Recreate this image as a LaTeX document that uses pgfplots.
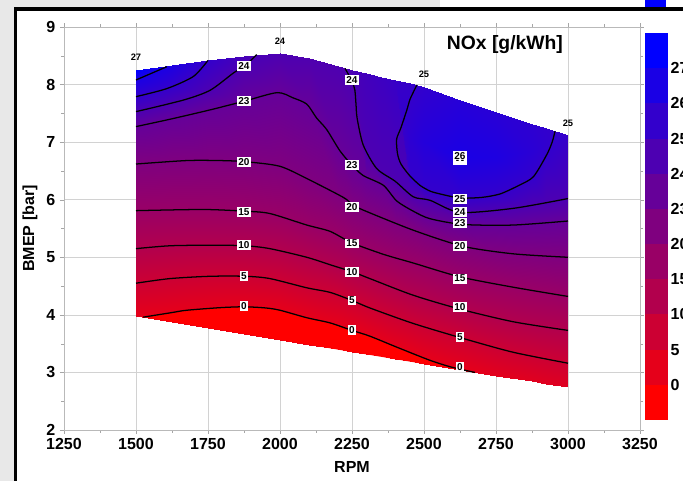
\documentclass[border=0pt]{standalone}
\usepackage{fontspec}
\setmainfont{Liberation Sans}
\usepackage{pgfplots}
\usepackage{pgfplotstable}
\pgfplotsset{compat=1.18}

\definecolor{cb0}{RGB}{255,0,0}
\definecolor{cb1}{RGB}{229,0,26}
\definecolor{cb2}{RGB}{204,0,51}
\definecolor{cb3}{RGB}{178,0,77}
\definecolor{cb4}{RGB}{153,0,102}
\definecolor{cb5}{RGB}{127,0,127}
\definecolor{cb6}{RGB}{102,0,153}
\definecolor{cb7}{RGB}{77,0,178}
\definecolor{cb8}{RGB}{51,0,204}
\definecolor{cb9}{RGB}{26,0,229}
\definecolor{cb10}{RGB}{0,0,255}
\definecolor{framegray}{RGB}{232,232,232}

\pgfplotsset{colormap={nox}{rgb255(0cm)=(230,0,25); rgb255(5cm)=(204,0,51); rgb255(10cm)=(178,0,77); rgb255(15cm)=(153,0,102); rgb255(20cm)=(127,0,127); rgb255(23cm)=(102,0,153); rgb255(24cm)=(77,0,178); rgb255(25cm)=(51,0,204); rgb255(26cm)=(26,0,229); rgb255(27cm)=(0,0,255)}}

% mesh: 12 rows (bottom, 0, 5, 10, 15, 20, 23, 24, 25, 26/peak, 25b/top, top) x 18 columns
\pgfplotstableread{
x y z
1500 3.98 0
1625 3.877 0
1750 3.773 0
1875 3.67 0
2000 3.567 0
2100 3.484 0
2200 3.401 0
2250 3.36 0
2300 3.318 0
2350 3.277 0
2400 3.236 0
2450 3.194 0
2500 3.153 0
2625 3.05 0
2750 2.946 0.5
2875 2.843 1.0
2925 2.80 1.1
3000 2.74 1.3
1500 3.98 0
1625 4.04 0
1750 4.11 0
1875 4.14 0
2000 4.08 0
2100 3.94 0
2200 3.82 0
2250 3.73 0
2300 3.65 0
2350 3.55 0
2400 3.45 0
2450 3.35 0
2500 3.25 0
2625 3.06 0
2750 2.946 0.5
2875 2.843 1.0
2925 2.80 1.1
3000 2.74 1.3
1500 4.55 5
1625 4.63 5
1750 4.67 5
1875 4.67 5
2000 4.61 5
2100 4.47 5
2200 4.36 5
2250 4.25 5
2300 4.15 5
2350 4.05 5
2400 3.96 5
2450 3.87 5
2500 3.79 5
2625 3.61 5
2750 3.43 5
2875 3.29 5
2925 3.24 5
3000 3.16 5
1500 5.15 10
1625 5.20 10
1750 5.21 10
1875 5.20 10
2000 5.12 10
2100 4.99 10
2200 4.83 10
2250 4.75 10
2300 4.65 10
2350 4.56 10
2400 4.46 10
2450 4.36 10
2500 4.29 10
2625 4.10 10
2750 3.95 10
2875 3.83 10
2925 3.79 10
3000 3.73 10
1500 5.81 15
1625 5.82 15
1750 5.83 15
1875 5.80 15
2000 5.71 15
2100 5.55 15
2200 5.38 15
2250 5.25 15
2300 5.16 15
2350 5.07 15
2400 4.99 15
2450 4.92 15
2500 4.85 15
2625 4.66 15
2750 4.54 15
2875 4.43 15
2925 4.39 15
3000 4.32 15
1500 6.62 20
1625 6.66 20
1750 6.68 20
1875 6.66 20
2000 6.58 20
2100 6.35 20
2200 6.09 20
2250 5.92 20
2300 5.80 20
2350 5.70 20
2400 5.60 20
2450 5.50 20
2500 5.41 20
2625 5.21 20
2750 5.10 20
2875 5.04 20
2925 5.02 20
3000 5.00 20
1500 7.27 23
1625 7.40 23
1750 7.55 23
1875 7.71 23
2000 7.85 23
2100 7.61 23
2200 6.91 23
2250 6.60 23
2300 6.40 23
2350 6.27 23
2400 6.01 23
2450 5.84 23
2500 5.72 23
2625 5.58 23
2750 5.56 23
2875 5.57 23
2925 5.60 23
3000 5.63 23
1500 7.53 24
1625 7.68 24
1750 7.89 24
1875 8.32 24
2000 8.545 24
2100 8.46 23.9
2200 8.32 23.95
2250 8.06 24
2300 6.85 24
2350 6.49 24
2400 6.32 24
2450 6.11 24
2500 6.01 24
2625 5.78 24
2750 5.83 24
2875 5.90 24
2925 5.94 24
3000 6.02 24
1500 7.79 25
1625 7.97 25
1750 8.42 25
1875 8.50 24.2
2000 8.545 24
2100 8.46 23.9
2200 8.32 23.95
2250 8.25 24.15
2300 8.20 24.4
2350 8.14 24.6
2400 8.085 24.8
2450 6.42 25
2500 6.21 25
2625 6.03 25
2750 6.10 25
2875 6.39 25
2925 6.78 25
3000 7.12 24.9
1500 8.08 26
1625 8.34 25.9
1750 8.42 25
1875 8.50 24.2
2000 8.545 24
2100 8.46 23.9
2200 8.32 23.95
2250 8.25 24.15
2300 8.20 24.4
2350 8.14 24.6
2400 8.085 24.8
2450 7.05 25.25
2500 7.00 25.6
2625 6.74 26
2750 6.75 25.85
2875 6.85 25.35
2925 7.00 25.1
3000 7.12 24.9
1500 8.25 27
1625 8.34 25.9
1750 8.42 25
1875 8.50 24.2
2000 8.545 24
2100 8.46 23.9
2200 8.32 23.95
2250 8.25 24.15
2300 8.20 24.4
2350 8.14 24.6
2400 8.085 24.8
2450 7.68 25
2500 7.95 25.1
2625 7.73 25.5
2750 7.52 25.4
2875 7.31 25.2
2925 7.24 25.05
3000 7.12 24.9
1500 8.25 27
1625 8.34 25.9
1750 8.42 25
1875 8.50 24.2
2000 8.545 24
2100 8.46 23.9
2200 8.32 23.95
2250 8.25 24.15
2300 8.20 24.4
2350 8.14 24.6
2400 8.085 24.8
2450 8.02 24.9
2500 7.95 25.1
2625 7.73 25.5
2750 7.52 25.4
2875 7.31 25.2
2925 7.24 25.05
3000 7.12 24.9
}\meshdata

\newcommand{\clab}[3]{\node[fill=white, inner sep=1.1pt, font=\fontsize{7.5}{8}\selectfont\bfseries] at (axis cs:#1,#2) {#3};}
\newcommand{\plab}[3]{\node[inner sep=0pt, font=\fontsize{7}{8}\selectfont\bfseries] at (axis cs:#1,#2) {#3};}

\begin{document}
\begin{tikzpicture}
% screenshot frame
\fill[white] (-48pt,-38.25pt) rectangle (464.25pt,322.5pt);
\fill[framegray] (-48pt,-38.25pt) rectangle (-37.5pt,322.5pt);
\fill[framegray] (-48pt,317.25pt) rectangle (282pt,322.5pt);
\fill[cb10] (435.75pt,317.25pt) rectangle (451.5pt,322.5pt);
\fill[black] (-37.5pt,-38.25pt) rectangle (-35.25pt,317.25pt);
\fill[black] (-37.5pt,314.25pt) rectangle (464.25pt,317.25pt);

\begin{axis}[
  at={(0pt,0pt)}, anchor=south west,
  scale only axis, width=432pt, height=302.25pt,
  xmin=1250, xmax=3250, ymin=2, ymax=9,
  xtick={1250,1500,...,3250}, ytick={2,...,9},
  minor tick num=1,
  tick align=outside,
  major tick length=3pt, minor tick length=2pt,
  tick style={gray!70},
  axis line style={gray!55},
  grid=major, major grid style={gray!35, line width=0.5pt},
  colormap name=nox, point meta min=0, point meta max=27,
  /pgf/number format/assume math mode=true,
  xticklabel style={/pgf/number format/1000 sep=},
  every tick label/.append style={font=\fontsize{12}{14}\selectfont\bfseries},
  xlabel={RPM}, ylabel={BMEP [bar]},
  label style={font=\fontsize{12}{14}\selectfont\bfseries},
  xlabel style={at={(axis description cs:0.5,-0.092)}, anchor=center},
  ylabel style={at={(axis description cs:-0.059,0.5)}, anchor=center},
]
\addplot[surf, shader=interp, mesh/rows=12, mesh/cols=18, point meta=\thisrow{z}] table[x=x, y=y] {\meshdata};

% region below the 0 contour
\addplot[fill=cb0, draw=none] coordinates {(1525,3.96) (1625,4.04) (1676,4.08) (1792,4.125) (1875,4.14) (1950,4.12) (2000,4.08) (2093,3.95) (2174,3.86) (2250,3.73) (2312,3.63) (2405,3.44) (2521,3.21) (2597,3.09) (2677,3.00)} -- cycle;

\pgfplotsset{cline/.style={black, line width=0.95pt, smooth, tension=0.45}}
% 0
\addplot[cline] coordinates {(1525,3.96) (1625,4.04) (1676,4.08) (1792,4.125) (1875,4.14) (1950,4.12) (2000,4.08) (2093,3.95) (2174,3.86) (2250,3.73) (2312,3.63) (2405,3.44) (2521,3.21) (2597,3.09) (2677,3.00)};
% 5
\addplot[cline] coordinates {(1500,4.55) (1618,4.63) (1757,4.67) (1880,4.67) (1965,4.63) (2093,4.47) (2174,4.39) (2250,4.25) (2312,4.12) (2463,3.85) (2636,3.59) (2810,3.35) (3000,3.16)};
% 10
\addplot[cline] coordinates {(1500,5.15) (1618,5.20) (1768,5.21) (1880,5.20) (1965,5.15) (2093,5.00) (2174,4.87) (2250,4.75) (2312,4.63) (2463,4.34) (2625,4.10) (2810,3.88) (3000,3.73)};
% 15
\addplot[cline] coordinates {(1500,5.81) (1734,5.83) (1880,5.80) (1965,5.76) (2093,5.56) (2174,5.45) (2250,5.25) (2360,5.05) (2463,4.90) (2625,4.66) (2810,4.48) (3000,4.32)};
% 20
\addplot[cline] coordinates {(1500,6.62) (1676,6.68) (1792,6.68) (1880,6.66) (2000,6.58) (2100,6.35) (2220,6.04) (2250,5.92) (2289,5.82) (2463,5.47) (2636,5.19) (2810,5.06) (3000,5.00)};
% 23
\addplot[cline] coordinates {(1500,7.27) (1620,7.40) (1757,7.56) (1875,7.71) (1990,7.86) (2045,7.77) (2093,7.66) (2127,7.42) (2162,7.22) (2208,6.85) (2250,6.60) (2289,6.42) (2359,6.25) (2405,5.98) (2463,5.80) (2521,5.67) (2636,5.57) (2810,5.56) (3000,5.63)};
% 24 left
\addplot[cline] coordinates {(1500,7.53) (1664,7.73) (1757,7.90) (1838,8.20) (1879,8.33) (1919,8.52)};
% 24 right
\addplot[cline] coordinates {(2226,8.28) (2250,8.06) (2260,7.90) (2264,7.65) (2268,7.41) (2289,6.95) (2336,6.54) (2400,6.32) (2463,6.05) (2521,5.99) (2625,5.78) (2810,5.85) (3000,6.02)};
% 25 left
\addplot[cline] coordinates {(1500,7.79) (1607,7.93) (1699,8.14) (1750,8.42)};
% 26 left
\addplot[cline] coordinates {(1500,8.08) (1607,8.31)};
% 25 bowl
\addplot[cline] coordinates {(2475,7.99) (2452,7.75) (2440,7.55) (2420,7.25) (2405,7.05) (2408,6.80) (2420,6.62) (2450,6.42) (2486,6.25) (2521,6.15) (2556,6.10) (2625,6.03) (2700,6.04) (2764,6.10) (2830,6.25) (2880,6.40) (2926,6.78) (2945,7.0) (2955,7.19)};

% contour labels
\clab{1875}{8.33}{24}
\clab{1875}{7.71}{23}
\clab{1875}{6.65}{20}
\clab{1875}{5.79}{15}
\clab{1875}{5.21}{10}
\clab{1875}{4.67}{5}
\clab{1875}{4.15}{0}
\clab{2250}{8.08}{24}
\clab{2250}{6.60}{23}
\clab{2250}{5.87}{20}
\clab{2250}{5.24}{15}
\clab{2250}{4.74}{10}
\clab{2250}{4.25}{5}
\clab{2250}{3.73}{0}
\node[fill=white, inner sep=1.1pt, align=center, font=\fontsize{7.5}{8}\selectfont\bfseries] at (axis cs:2625,6.72) {26\\[-5pt]-\,-};
\clab{2625}{6.01}{25}
\clab{2625}{5.79}{24}
\clab{2625}{5.59}{23}
\clab{2625}{5.19}{20}
\clab{2625}{4.63}{15}
\clab{2625}{4.13}{10}
\clab{2625}{3.61}{5}
\clab{2625}{3.09}{0}

% point values on the boundary
\plab{1500}{8.48}{27}
\plab{2000}{8.76}{24}
\plab{2500}{8.17}{25}
\plab{3000}{7.33}{25}

\node[font=\fontsize{14.5}{16}\selectfont\bfseries] at (axis cs:2781,8.69) {NOx [g/kWh]};
\end{axis}

% colour bar
\begin{axis}[
  at={(435.75pt,7.5pt)}, anchor=south west,
  scale only axis, width=17.25pt, height=290.25pt,
  xmin=0, xmax=1, ymin=0, ymax=11,
  xtick=\empty, ytick={1,...,10},
  yticklabels={0,5,10,15,20,23,24,25,26,27},
  yticklabel pos=right,
  major tick length=0pt,
  axis line style={draw=none},
  every tick label/.append style={font=\fontsize{12}{14}\selectfont\bfseries},
  yticklabel style={xshift=-1.5pt},
]
\addplot[fill=cb0, draw=none] coordinates {(0,0) (1,0) (1,1) (0,1)} -- cycle;
\addplot[fill=cb1, draw=none] coordinates {(0,1) (1,1) (1,2) (0,2)} -- cycle;
\addplot[fill=cb2, draw=none] coordinates {(0,2) (1,2) (1,3) (0,3)} -- cycle;
\addplot[fill=cb3, draw=none] coordinates {(0,3) (1,3) (1,4) (0,4)} -- cycle;
\addplot[fill=cb4, draw=none] coordinates {(0,4) (1,4) (1,5) (0,5)} -- cycle;
\addplot[fill=cb5, draw=none] coordinates {(0,5) (1,5) (1,6) (0,6)} -- cycle;
\addplot[fill=cb6, draw=none] coordinates {(0,6) (1,6) (1,7) (0,7)} -- cycle;
\addplot[fill=cb7, draw=none] coordinates {(0,7) (1,7) (1,8) (0,8)} -- cycle;
\addplot[fill=cb8, draw=none] coordinates {(0,8) (1,8) (1,9) (0,9)} -- cycle;
\addplot[fill=cb9, draw=none] coordinates {(0,9) (1,9) (1,10) (0,10)} -- cycle;
\addplot[fill=cb10, draw=none] coordinates {(0,10) (1,10) (1,11) (0,11)} -- cycle;
\end{axis}

\pgfresetboundingbox
\path[use as bounding box] (-48pt,-38.25pt) rectangle (464.25pt,322.5pt);
\end{tikzpicture}
\end{document}
